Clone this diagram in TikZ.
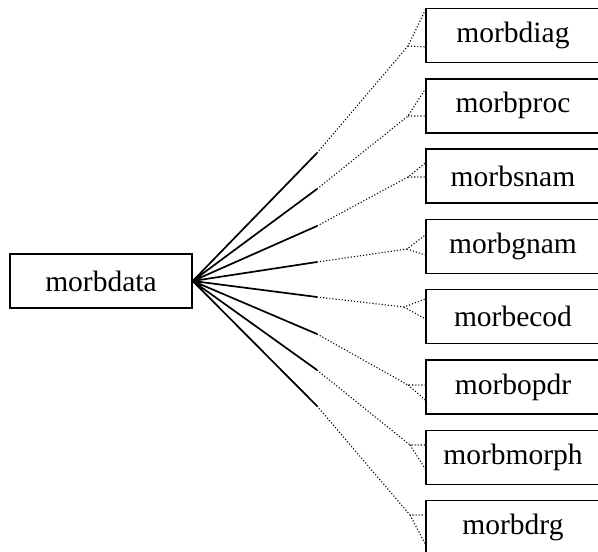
\documentclass[tikz,border=0pt]{standalone}
\usepackage{fontspec}
\setmainfont{Liberation Serif}
\usepackage{tikz}
\usetikzlibrary{positioning}

\begin{document}
\begin{tikzpicture}[x=1pt, y=-1pt,
		modbox/.style={draw, line width=1.4pt, minimum width=174pt, minimum height=54pt, inner sep=0pt, font=\fontsize{29.5}{35}\selectfont},
		mainlink/.style={line width=1.7pt},
		sublink/.style={dotted, line width=1.1pt}]
			\useasboundingbox (0,0) rectangle (598,552);
			\node[modbox, minimum width=182pt] (data) at (101, 281){morbdata};
			\node[modbox] (diag)  at (513,  35.5){morbdiag};
			\node[modbox] (proc)  at (513, 105.8){morbproc};
			\node[modbox] (snam)  at (513, 176.1){morbsnam};
			\node[modbox] (gnam)  at (513, 246.4){morbgnam};
			\node[modbox] (ecod)  at (513, 316.7){morbecod};
			\node[modbox] (opdr)  at (513, 387.0){morbopdr};
			\node[modbox] (morph) at (513, 457.3){morbmorph};
			\node[modbox] (drg)   at (513, 527.6){morbdrg};
			% bends of the links
			\coordinate (k1) at (317, 153); \coordinate (f1) at (408,  46);
			\coordinate (k2) at (317, 189); \coordinate (f2) at (408, 116);
			\coordinate (k3) at (317, 226); \coordinate (f3) at (408, 177);
			\coordinate (k4) at (317, 262); \coordinate (f4) at (407, 249);
			\coordinate (k5) at (317, 297); \coordinate (f5) at (404, 307);
			\coordinate (k6) at (317, 334); \coordinate (f6) at (408, 385);
			\coordinate (k7) at (317, 370); \coordinate (f7) at (410, 445);
			\coordinate (k8) at (317, 406); \coordinate (f8) at (410, 515);
			\draw[mainlink] (data.east) -- (k1) (data.east) -- (k2) (data.east) -- (k3) (data.east) -- (k4)
				(data.east) -- (k5) (data.east) -- (k6) (data.east) -- (k7) (data.east) -- (k8);
			\draw[sublink] (k1) -- (f1) -- (diag.west |- 0,10)  (f1) -- (diag.west |- 0,47);
			\draw[sublink] (k2) -- (f2) -- (proc.west |- 0,89)  (f2) -- (proc.west |- 0,116);
			\draw[sublink] (k3) -- (f3) -- (snam.west |- 0,163) (f3) -- (snam.west |- 0,177);
			\draw[sublink] (k4) -- (f4) -- (gnam.west |- 0,235) (f4) -- (gnam.west |- 0,255);
			\draw[sublink] (k5) -- (f5) -- (ecod.west |- 0,299) (f5) -- (ecod.west |- 0,319);
			\draw[sublink] (k6) -- (f6) -- (opdr.west |- 0,385) (f6) -- (opdr.west |- 0,400);
			\draw[sublink] (k7) -- (f7) -- (morph.west |- 0,445) (f7) -- (morph.west |- 0,469);
			\draw[sublink] (k8) -- (f8) -- (drg.west |- 0,515) (f8) -- (drg.west |- 0,544);
		\end{tikzpicture}
\end{document}
